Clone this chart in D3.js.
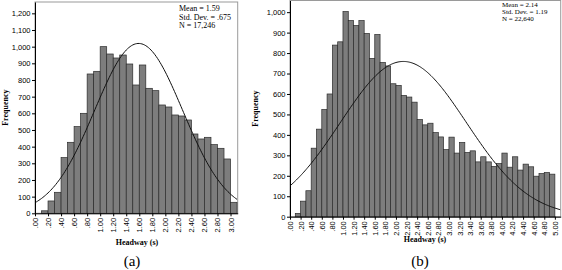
<!DOCTYPE html>
<html>
<head>
<meta charset="utf-8">
<script src="https://cdn.jsdelivr.net/npm/d3@7"></script>
<style>
  body { margin: 0; background: #fff; }
  svg { font-family: "Liberation Serif", "DejaVu Serif", serif; }
</style>
</head>
<body>
<script>
// bin counts, bins of width 0.1 starting at 0.1
const binWidth = 0.1;
const firstBin = 0.1;

const freqA = [15, 74, 126, 334, 426, 520, 600, 836, 852, 1000,
               956, 932, 950, 896, 770, 890, 750, 736, 650, 638,
               590, 584, 560, 476, 446, 456, 412, 390, 326, 66];
const statsA = { mean: 1.59, sd: 0.675, n: 17246 };
const legendA = ["Mean = 1.59", "Std. Dev. = .675", "N = 17,246"];

const freqB = [16, 76, 127, 335, 428, 524, 600, 839, 855, 1003,
               959, 935, 959, 896, 774, 891, 754, 737, 650, 642,
               593, 585, 560, 475, 449, 457, 411, 390, 328, 389,
               311, 363, 314, 322, 268, 293, 268, 246, 260, 311,
               242, 293, 228, 257, 244, 198, 211, 216, 208];
const statsB = { mean: 2.14, sd: 1.19, n: 22640 };
const legendB = ["Mean = 2.14", "Std. Dev. = 1.19", "N = 22,640"];

const svg = d3.select("body").append("svg")
    .attr("width", 562)
    .attr("height", 270);

function drawHist(cfg) {
    const x = d3.scaleLinear().domain(cfg.xDomain).range([cfg.left, cfg.right]);
    const y = d3.scaleLinear().domain(cfg.yDomain).range([cfg.bottom, cfg.top]);
    const g = svg.append("g");

    // frame
    g.append("rect")
        .attr("x", cfg.left).attr("y", cfg.top)
        .attr("width", cfg.right - cfg.left).attr("height", cfg.bottom - cfg.top)
        .attr("fill", "none").attr("stroke", "#9a9a9a").attr("stroke-width", 1);

    // bars
    g.selectAll("rect.bar")
        .data(cfg.freq)
        .join("rect")
        .attr("class", "bar")
        .attr("x", (d, i) => x(firstBin + i * binWidth))
        .attr("width", (d, i) => x(firstBin + (i + 1) * binWidth) - x(firstBin + i * binWidth))
        .attr("y", d => y(d))
        .attr("height", d => y(0) - y(d))
        .attr("fill", "#7d7d7d")
        .attr("stroke", "#2b2b2b")
        .attr("stroke-width", 0.7);

    // fitted normal curve from the shown mean / sd / N
    const s = cfg.stats;
    const pts = d3.range(cfg.xDomain[0], cfg.xDomain[1] + 0.001, 0.02);
    const line = d3.line()
        .x(v => x(v))
        .y(v => y(s.n * binWidth / (s.sd * Math.sqrt(2 * Math.PI)) *
                  Math.exp(-0.5 * Math.pow((v - s.mean) / s.sd, 2))));
    g.append("path")
        .datum(pts)
        .attr("fill", "none")
        .attr("stroke", "#111")
        .attr("stroke-width", 1)
        .attr("d", line);

    // y axis
    const ya = g.append("g")
        .attr("transform", `translate(${cfg.left},0)`)
        .call(d3.axisLeft(y).tickValues(cfg.yTicks).tickFormat(d3.format(",")).tickSize(3).tickSizeOuter(0));
    ya.selectAll("text").attr("font-size", 7.5).attr("x", -4.5);
    ya.select(".domain").attr("stroke", "#000");

    // x axis
    const xa = g.append("g")
        .attr("transform", `translate(0,${cfg.bottom})`)
        .call(d3.axisBottom(x).tickValues(cfg.xTicks)
              .tickFormat(v => d3.format(".2f")(v).replace(/^0/, "")).tickSize(3).tickSizeOuter(0));
    xa.selectAll("text")
        .attr("font-size", 7.5)
        .attr("transform", "rotate(-90)")
        .attr("x", -4.5).attr("y", 0).attr("dy", "0.33em")
        .style("text-anchor", "end");
    xa.select(".domain").attr("stroke", "#000");

    // axis titles
    g.append("text")
        .attr("transform", `translate(${cfg.yTitleX},${(cfg.top + cfg.bottom) / 2}) rotate(-90)`)
        .attr("text-anchor", "middle")
        .attr("font-size", 8).attr("font-weight", "bold")
        .text("Frequency");
    g.append("text")
        .attr("x", cfg.xTitleX).attr("y", cfg.xTitleY)
        .attr("text-anchor", "middle")
        .attr("font-size", 8).attr("font-weight", "bold")
        .text("Headway (s)");

    // legend
    g.selectAll("text.leg")
        .data(cfg.legend)
        .join("text")
        .attr("class", "leg")
        .attr("x", cfg.legX)
        .attr("y", (d, i) => cfg.legY + i * cfg.legStep)
        .attr("font-size", cfg.legSize)
        .text(d => d);

    // panel label
    g.append("text")
        .attr("x", cfg.capX).attr("y", 266)
        .attr("text-anchor", "middle")
        .attr("font-size", 15)
        .text(cfg.caption);
}

drawHist({
    freq: freqA, stats: statsA, legend: legendA, caption: "(a)",
    xDomain: [0, 3.11], yDomain: [0, 1268],
    left: 35, right: 237.7, top: 2, bottom: 213.3,
    yTicks: d3.range(0, 1201, 100),
    xTicks: d3.range(0, 3.001, 0.2),
    yTitleX: 8, xTitleX: 137, xTitleY: 245,
    legX: 179, legY: 11, legStep: 8.5, legSize: 8, capX: 132
});

drawHist({
    freq: freqB, stats: statsB, legend: legendB, caption: "(b)",
    xDomain: [0, 5.11], yDomain: [0, 1057],
    left: 290, right: 560.7, top: 0.5, bottom: 216.7,
    yTicks: d3.range(0, 1001, 100),
    xTicks: d3.range(0, 5.001, 0.2),
    yTitleX: 258, xTitleX: 425, xTitleY: 242,
    legX: 502, legY: 7, legStep: 7.2, legSize: 7, capX: 420
});
</script>
</body>
</html>
